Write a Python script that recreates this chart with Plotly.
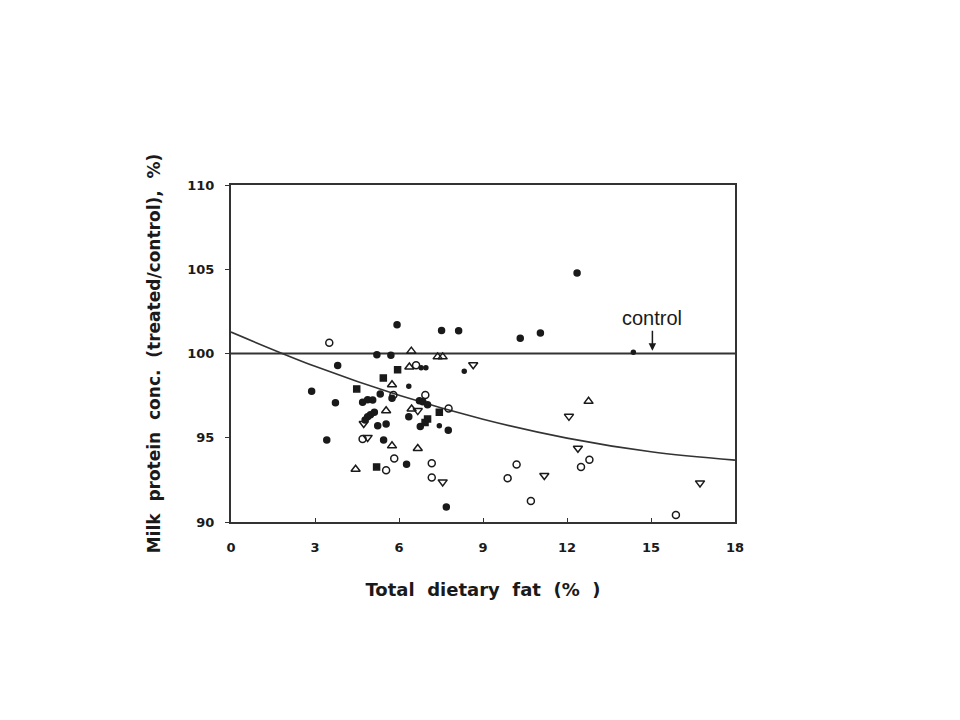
import plotly.graph_objects as go

# Data
fc_x = [5.93, 7.52, 8.13, 10.33, 11.05, 12.36, 5.21, 5.71, 3.81, 2.88, 5.33, 5.75, 3.73, 4.70, 4.88, 5.06,
        6.73, 6.85, 7.02, 5.12, 4.98, 4.88, 4.79, 5.24, 5.54, 6.35, 6.76, 7.76, 3.42, 5.45, 6.27, 7.69]
fc_y = [101.71, 101.37, 101.35, 100.91, 101.21, 104.78, 99.92, 99.9, 99.29, 97.76, 97.6, 97.34, 97.07, 97.1, 97.26, 97.24,
        97.2, 97.14, 96.96, 96.51, 96.37, 96.25, 96.05, 95.71, 95.81, 96.25, 95.67, 95.45, 94.86, 94.86, 93.43, 90.89]

sm_x = [6.79, 6.96, 8.33, 6.35, 7.44, 14.37]
sm_y = [99.15, 99.15, 98.95, 98.05, 95.71, 100.08]

sq_x = [5.95, 5.44, 4.49, 7.02, 6.93, 7.44, 5.20]
sq_y = [99.03, 98.55, 97.9, 96.11, 95.91, 96.51, 93.27]

oc_x = [3.51, 6.61, 5.8, 6.94, 7.77, 4.70, 5.83, 7.17, 5.54, 7.17, 10.2, 9.88, 10.71, 12.8, 12.5, 15.89]
oc_y = [100.64, 99.3, 97.54, 97.54, 96.74, 94.92, 93.77, 93.49, 93.07, 92.64, 93.41, 92.6, 91.25, 93.69, 93.27, 90.42]

tu_x = [6.44, 7.38, 7.56, 6.37, 5.75, 5.54, 6.45, 5.75, 6.67, 4.45, 12.77]
tu_y = [100.14, 99.8, 99.8, 99.2, 98.15, 96.6, 96.71, 94.52, 94.36, 93.13, 97.16]

td_x = [8.65, 4.74, 6.67, 7.56, 12.07, 12.39, 11.19, 16.75, 4.88]
td_y = [99.33, 95.85, 96.61, 92.38, 96.27, 94.38, 92.76, 92.32, 95.02]

curve_x = [0, 3, 6, 9, 12, 15, 18]
curve_y = [101.27, 99.24, 97.52, 96.1, 94.98, 94.17, 93.67]

control_x = [0, 18]
control_y = [100, 100]

x_ticks = [0, 3, 6, 9, 12, 15, 18]
y_ticks = [90, 95, 100, 105, 110]

INK = "#1a1a1a"
fig = go.Figure()
fig.add_trace(go.Scatter(x=control_x, y=control_y, mode="lines", line=dict(color="#333", width=2), showlegend=False))
fig.add_trace(go.Scatter(x=curve_x, y=curve_y, mode="lines", line=dict(color="#333", width=1.6, shape="spline"), showlegend=False))

def pts(x, y, symbol, size):
    fig.add_trace(go.Scatter(
        x=x, y=y, mode="markers", showlegend=False,
        marker=dict(symbol=symbol, size=size, color=INK, line=dict(color=INK, width=1.5))))

pts(fc_x, fc_y, "circle", 6)
pts(sm_x, sm_y, "circle", 4)
pts(sq_x, sq_y, "square", 6)
pts(oc_x, oc_y, "circle-open", 7)
pts(tu_x, tu_y, "triangle-up-open", 8)
pts(td_x, td_y, "triangle-down-open", 8)

fig.add_annotation(x=15.05, y=100.05, ax=0, ay=-20, text="control", showarrow=True,
                   arrowhead=2, arrowsize=1, arrowwidth=1.5, arrowcolor=INK,
                   yshift=2, font=dict(family="Liberation Sans", size=20, color=INK),
                   xanchor="center", yanchor="bottom")

font_b = dict(family="DejaVu Sans", size=13, color=INK)
fig.update_layout(
    width=960, height=720, paper_bgcolor="white", plot_bgcolor="white",
    margin=dict(l=223, r=233, t=177, b=206),
    xaxis=dict(range=[0, 18], tickvals=x_ticks, ticktext=[f"<b>{v}</b>" for v in x_ticks],
               showgrid=False, zeroline=False, showline=True, linecolor="#333", linewidth=2, mirror=True,
               ticks="inside", ticklen=4, tickcolor="#333", tickfont=font_b, ticklabelstandoff=12,
               title=dict(text="<b>Total  dietary  fat  (%  )</b>", font=dict(family="DejaVu Sans", size=18, color=INK), standoff=30)),
    yaxis=dict(range=[90, 110], tickvals=y_ticks, ticktext=[f"<b>{v}</b>" for v in y_ticks],
               showgrid=False, zeroline=False, showline=True, linecolor="#333", linewidth=2, mirror=True,
               ticks="outside", ticklen=4, tickcolor="#333", tickfont=font_b, ticklabelstandoff=8,
               title=dict(text="<b>Milk  protein  conc.  (treated/control),  %)</b>", font=dict(family="DejaVu Sans", size=17, color=INK), standoff=22)),
)
fig.write_html("out.html")
